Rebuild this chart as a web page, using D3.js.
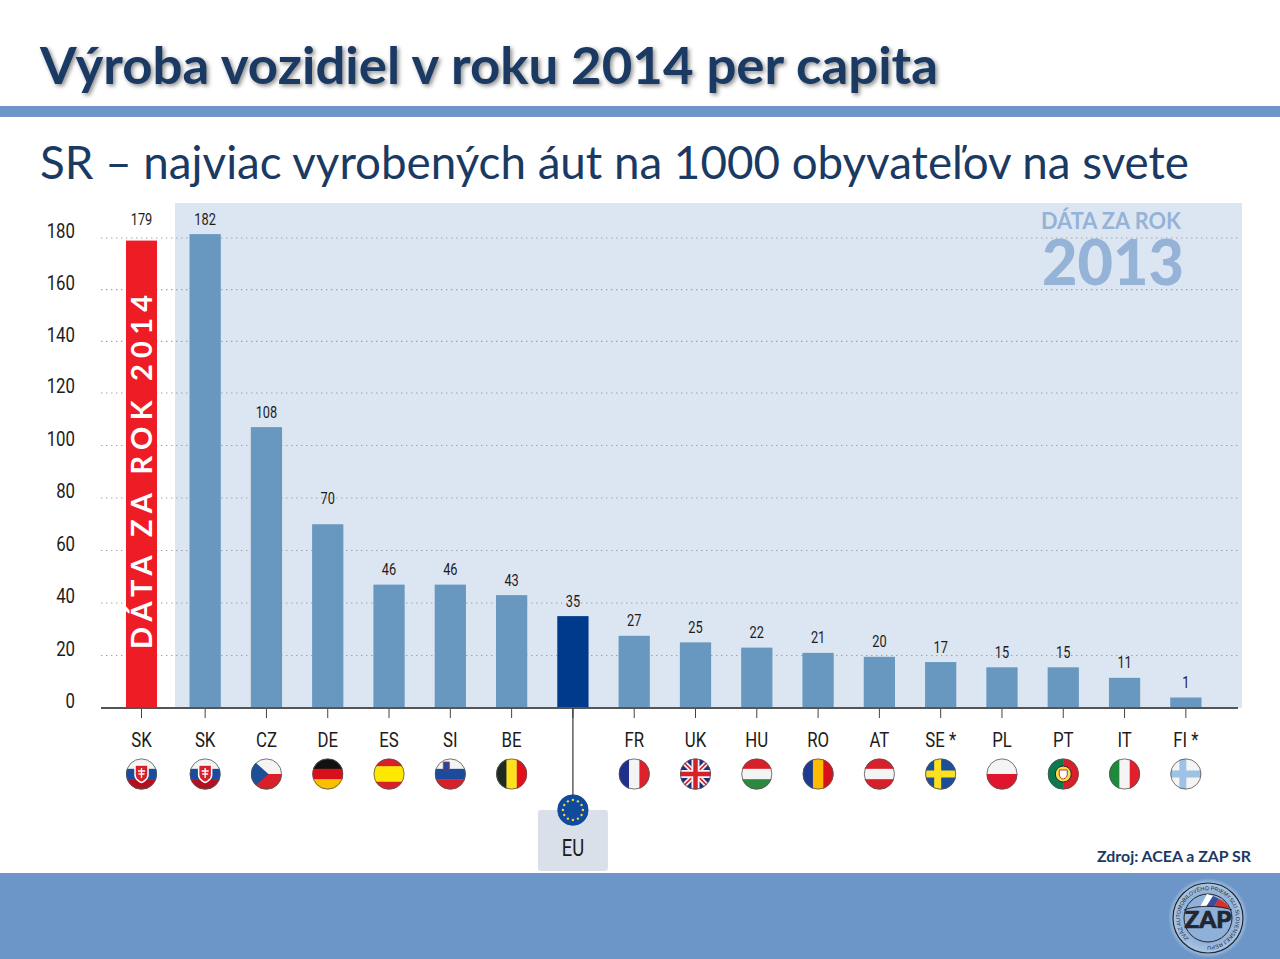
<!DOCTYPE html>
<html>
<head>
<meta charset="utf-8">
<script src="https://cdn.jsdelivr.net/npm/d3@7"></script>
<style>
  html, body { margin: 0; padding: 0; background: #fff; }
  svg { display: block; }
  .narrow { font-family: "Roboto", sans-serif; font-weight: 400; }
  .narrow text { font-family: "Roboto", sans-serif; }
  .lato { font-family: "Lato", "Open Sans", sans-serif; }
  .tick text { fill: #1c1c1c; }
</style>
</head>
<body>
<div id="d3"></div>
<script>
var categories2014 = ["SK"];
var values2014 = [179];

var categories = ["SK", "CZ", "DE", "ES", "SI", "BE", "EU", "FR", "UK", "HU", "RO", "AT", "SE *", "PL", "PT", "IT", "FI *"];
var values = [181.5, 107, 70, 47, 47, 43, 35, 27.5, 25, 23, 21, 19.5, 17.5, 15.5, 15.5, 11.5, 4];
var valueLabels = ["182", "108", "70", "46", "46", "43", "35", "27", "25", "22", "21", "20", "17", "15", "15", "11", "1"];
var yTicks = [0, 20, 40, 60, 80, 100, 120, 140, 160, 180];

var width = 1280;
var height = 959;
var navy = "#1a3a63";
var band = "#6c96c8";
var squeeze = 0.8;

// the picture's axis is slightly tighter above 120
var y = d3.scaleLinear().domain([0, 120, 180]).range([708, 393, 238]);

var x = d3.scaleBand()
  .domain(categories)
  .range([174.5, 1216.5])
  .paddingInner(0.49)
  .paddingOuter(0.245);

var x2014 = d3.scaleBand()
  .domain(categories2014)
  .range([110, 173])
  .padding(0.34);

var svg = d3.select("#d3").append("svg")
  .attr("width", width)
  .attr("height", height);

// header and footer
svg.append("rect").attr("x", 0).attr("y", 106).attr("width", width).attr("height", 11).attr("fill", band);
svg.append("rect").attr("x", 0).attr("y", 873).attr("width", width).attr("height", 86).attr("fill", band);

svg.append("text").attr("class", "lato")
  .attr("x", 40).attr("y", 84)
  .attr("font-size", 52).attr("font-weight", 700)
  .attr("fill", navy)
  .attr("textLength", 898).attr("lengthAdjust", "spacingAndGlyphs")
  .style("filter", "drop-shadow(2px 2px 2px rgba(0,0,0,0.45))")
  .text("Výroba vozidiel v roku 2014 per capita");

svg.append("text").attr("class", "lato")
  .attr("x", 40).attr("y", 179)
  .attr("font-size", 46)
  .attr("fill", navy)
  .attr("textLength", 1149).attr("lengthAdjust", "spacingAndGlyphs")
  .text("SR – najviac vyrobených áut na 1000 obyvateľov na svete");

// panel for the 2013 data
svg.append("rect").attr("x", 175).attr("y", 203).attr("width", 1067).attr("height", 505).attr("fill", "#dce6f2");

// grid
svg.append("g").selectAll("line")
  .data(yTicks.filter(d => d > 0))
  .join("line")
    .attr("x1", 101).attr("x2", 1238)
    .attr("y1", d => y(d)).attr("y2", d => y(d))
    .attr("stroke", "#a0a0a0")
    .attr("stroke-width", 1.2)
    .attr("stroke-dasharray", "1.4 3.6");

svg.append("text").attr("class", "lato")
  .attr("x", 1111).attr("y", 229)
  .attr("text-anchor", "middle")
  .attr("font-size", 23).attr("font-weight", 700)
  .attr("fill", "#95b3d7")
  .attr("textLength", 140).attr("lengthAdjust", "spacingAndGlyphs")
  .text("DÁTA ZA ROK");

svg.append("text").attr("class", "lato")
  .attr("x", 1113).attr("y", 285)
  .attr("text-anchor", "middle")
  .attr("font-size", 63).attr("font-weight", 900)
  .attr("fill", "#95b3d7")
  .attr("textLength", 142).attr("lengthAdjust", "spacingAndGlyphs")
  .text("2013");

// bars
svg.append("g").selectAll("rect")
  .data(categories2014)
  .join("rect")
    .attr("x", d => x2014(d))
    .attr("y", (d, i) => y(values2014[i]))
    .attr("width", x2014.bandwidth())
    .attr("height", (d, i) => y(0) - y(values2014[i]))
    .attr("fill", "#ee1c25");

svg.append("g").selectAll("rect")
  .data(categories)
  .join("rect")
    .attr("x", d => x(d))
    .attr("y", (d, i) => y(values[i]))
    .attr("width", x.bandwidth())
    .attr("height", (d, i) => y(0) - y(values[i]))
    .attr("fill", d => d === "EU" ? "#003a8c" : "#6898bf");

// value labels, DE sits higher in the picture
svg.append("g").attr("class", "narrow").selectAll("text")
  .data(categories)
  .join("text")
    .attr("transform", (d, i) => `translate(${x(d) + x.bandwidth() / 2},${y(values[i]) - (d === "DE" ? 20 : 9.5)}) scale(${squeeze},1)`)
    .attr("text-anchor", "middle")
    .attr("font-size", 16)
    .attr("fill", "#1c1c1c")
    .text((d, i) => valueLabels[i]);

var redCx = x2014("SK") + x2014.bandwidth() / 2;

svg.append("g").attr("class", "narrow").append("text")
  .attr("transform", `translate(${redCx},${y(values2014[0]) - 15.5}) scale(${squeeze},1)`)
  .attr("text-anchor", "middle")
  .attr("font-size", 16)
  .attr("fill", "#1c1c1c")
  .text(values2014[0]);

svg.append("text").attr("class", "lato")
  .attr("transform", `translate(${redCx + 10.5},649) rotate(-90)`)
  .attr("font-size", 29).attr("font-weight", 700)
  .attr("fill", "#fff")
  .attr("textLength", 354)
  .text("DÁTA ZA ROK 2014");

// y axis, the labels sit a little above their grid line
var gy = svg.append("g")
  .attr("class", "narrow")
  .attr("transform", "translate(75,0)")
  .call(d3.axisLeft(y).tickValues(yTicks).tickSize(0).tickPadding(0));
gy.select(".domain").remove();
gy.selectAll("text")
  .attr("font-size", 21).attr("y", -7).attr("x", 0)
  .attr("transform", `scale(${squeeze},1)`);

// x axes
function bottomAxis(scale) {
  var g = svg.append("g")
    .attr("class", "narrow")
    .attr("transform", "translate(0,708)")
    .call(d3.axisBottom(scale).tickSize(10).tickPadding(14).tickSizeOuter(0).tickFormat(d => d === "EU" ? "" : d));
  g.select(".domain").remove();
  g.selectAll("text")
    .attr("font-size", 21)
    .attr("transform", `scale(${squeeze},1)`);
  g.selectAll("line").attr("stroke", "#444").attr("stroke-width", 1);
}
bottomAxis(x);
bottomAxis(x2014);

svg.append("line")
  .attr("x1", 101).attr("x2", 1238)
  .attr("y1", y(0)).attr("y2", y(0))
  .attr("stroke", "#555").attr("stroke-width", 1.8);

// EU call-out
var euCx = x("EU") + x.bandwidth() / 2;
svg.append("rect")
  .attr("x", euCx - 35).attr("y", 810).attr("width", 70).attr("height", 61).attr("rx", 3)
  .attr("fill", "#d9e0ea");
svg.append("line")
  .attr("x1", euCx).attr("x2", euCx)
  .attr("y1", y(0)).attr("y2", 800)
  .attr("stroke", "#333").attr("stroke-width", 1.2);
svg.append("g").attr("class", "narrow").append("text")
  .attr("transform", `translate(${euCx},856) scale(${squeeze},1)`)
  .attr("text-anchor", "middle")
  .attr("font-size", 23).attr("fill", "#1c1c1c")
  .text("EU");

// flags
var flagStripes = {
  "SK": ["h", "#f4f4f4", "#1c4a9c", "#b01020"],
  "CZ": ["h", "#f4f4f4", "#d9202a"],
  "DE": ["h", "#111", "#d8101c", "#fbbf00"],
  "ES": ["h", "#d8202a", "#ffe800", "#ffe800", "#d8202a"],
  "SI": ["h", "#f4f4f4", "#1c4a9c", "#d8202a"],
  "BE": ["v", "#1d2b22", "#fde020", "#e0101c"],
  "FR": ["v", "#1f2f8c", "#f4f4f4", "#e0202a"],
  "HU": ["h", "#d8202a", "#f4f4f4", "#2c8a40"],
  "RO": ["v", "#1c3a90", "#fdbb00", "#d8101c"],
  "AT": ["h", "#d8202a", "#f4f4f4", "#d8202a"],
  "PL": ["h", "#f4f4f4", "#e0142c"],
  "IT": ["v", "#1f8a3c", "#f4f4f4", "#e0202a"],
  "PT": ["v", "#0c7a50", "#0c7a50", "#d8202a", "#d8202a"],
  "UK": ["h", "#1f2f7c"],
  "SE": ["h", "#1c4f98"],
  "FI": ["h", "#f4f4f4"],
  "EU": ["h", "#0f4a9c"]
};

var flagR = 15.5;
var defs = svg.append("defs");
defs.append("clipPath").attr("id", "flagClip")
  .append("circle").attr("r", flagR);

function drawCross(g, color, vx, wide) {
  g.append("rect").attr("x", -flagR).attr("y", -wide / 2).attr("width", flagR * 2).attr("height", wide).attr("fill", color);
  g.append("rect").attr("x", vx - wide / 2).attr("y", -flagR).attr("width", wide).attr("height", flagR * 2).attr("fill", color);
}

function drawFlag(code, cx, cy) {
  var outer = svg.append("g").attr("transform", `translate(${cx},${cy})`);
  var g = outer.append("g").attr("clip-path", "url(#flagClip)");
  var spec = flagStripes[code];
  var colors = spec.slice(1);
  var size = flagR * 2 / colors.length;
  g.selectAll("rect").data(colors).join("rect")
    .attr("x", (d, i) => spec[0] === "v" ? -flagR + i * size : -flagR)
    .attr("y", (d, i) => spec[0] === "h" ? -flagR + i * size : -flagR)
    .attr("width", spec[0] === "v" ? size + 0.5 : flagR * 2)
    .attr("height", spec[0] === "h" ? size + 0.5 : flagR * 2)
    .attr("fill", d => d);

  if (code === "SK") {
    g.append("path").attr("d", "M-6.5,-9H6.5V1C6.5,6 0,8.5 0,8.5C0,8.5 -6.5,6 -6.5,1Z").attr("fill", "#d8202a").attr("stroke", "#fff").attr("stroke-width", 1.5);
    g.append("path").attr("d", "M0,-6V4M-3.5,-3H3.5M-3,0H3").attr("stroke", "#fff").attr("stroke-width", 1.3);
  } else if (code === "CZ") {
    g.append("path").attr("d", "M-16,-16L2,0L-16,16Z").attr("fill", "#1c4f98");
  } else if (code === "SI") {
    g.append("path").attr("d", "M-7,-12H-1V-6C-1,-4 -4,-3 -4,-3C-4,-3 -7,-4 -7,-6Z").attr("fill", "#1c4a9c").attr("stroke", "#d8202a").attr("stroke-width", 0.8);
  } else if (code === "UK") {
    g.append("path").attr("d", "M-16,-16L16,16M16,-16L-16,16").attr("stroke", "#f4f4f4").attr("stroke-width", 5);
    g.append("path").attr("d", "M-16,-16L16,16M16,-16L-16,16").attr("stroke", "#d8202a").attr("stroke-width", 1.6);
    drawCross(g, "#f4f4f4", 0, 8);
    drawCross(g, "#d8202a", 0, 4.5);
  } else if (code === "SE") {
    drawCross(g, "#fde020", -3, 7);
  } else if (code === "FI") {
    drawCross(g, "#9cc2e6", -3, 7);
  } else if (code === "PT") {
    g.append("circle").attr("r", 8).attr("fill", "#f2e14c").attr("stroke", "#222").attr("stroke-width", 1);
    g.append("path").attr("d", "M-4,-4H4V1C4,4 0,5 0,5C0,5 -4,4 -4,1Z").attr("fill", "#fff").attr("stroke", "#c33").attr("stroke-width", 1);
  } else if (code === "EU") {
    g.selectAll("circle.star").data(d3.range(12)).join("circle")
      .attr("class", "star")
      .attr("cx", d => 10 * Math.cos(d * Math.PI / 6))
      .attr("cy", d => 10 * Math.sin(d * Math.PI / 6))
      .attr("r", 1.2)
      .attr("fill", "#f5d33a");
  }
  outer.append("circle").attr("r", flagR - 0.4)
    .attr("fill", "none")
    .attr("stroke", code === "EU" ? "#0f4a9c" : "#555")
    .attr("stroke-width", 0.8);
}

drawFlag("SK", redCx, 774);
categories.forEach(function(d) {
  var code = d.replace(" *", "");
  var cx = x(d) + x.bandwidth() / 2;
  drawFlag(code, cx, code === "EU" ? 810 : 774);
});

// source
svg.append("text").attr("class", "lato")
  .attr("x", 1097).attr("y", 862)
  .attr("font-size", 15).attr("font-weight", 700)
  .attr("fill", navy)
  .attr("textLength", 154).attr("lengthAdjust", "spacingAndGlyphs")
  .text("Zdroj: ACEA a ZAP SR");

// ZAP logo
var logo = svg.append("g").attr("transform", "translate(1208,918)");
var glow = defs.append("radialGradient").attr("id", "logoGlow");
glow.append("stop").attr("offset", "60%").attr("stop-color", "#8fb0d8");
glow.append("stop").attr("offset", "85%").attr("stop-color", "#a9c4e4");
glow.append("stop").attr("offset", "100%").attr("stop-color", band);
logo.append("circle").attr("r", 40).attr("fill", "url(#logoGlow)");
logo.append("circle").attr("r", 35).attr("fill", "none").attr("stroke", "#23262e").attr("stroke-width", 1.2);
logo.append("circle").attr("r", 24).attr("fill", "none").attr("stroke", "#23262e").attr("stroke-width", 1);
defs.append("path").attr("id", "logoRing").attr("d", "M0,28A28,28 0 1 1 0.01,28");
logo.append("text")
  .attr("font-family", "Liberation Sans").attr("font-size", 5.5).attr("fill", "#23262e")
  .append("textPath").attr("href", "#logoRing").attr("startOffset", "12%")
  .text("ZVÄZ AUTOMOBILOVÉHO PRIEMYSLU SLOVENSKEJ REPUBLIKY");
logo.append("path").attr("d", "M-8,-11L-1,-24L5,-22L-2,-11Z").attr("fill", "#fff");
logo.append("path").attr("d", "M-2,-11L5,-22L11,-19L6,-11Z").attr("fill", "#3a4f9c");
logo.append("path").attr("d", "M6,-11L11,-19C16,-17 19,-14 22,-9Z").attr("fill", "#d8302a");
logo.append("path").attr("d", "M-24,-8C-12,-13 12,-13 24,-8").attr("fill", "none").attr("stroke", "#23262e").attr("stroke-width", 1);
logo.append("text").attr("class", "lato")
  .attr("x", 0).attr("y", 10)
  .attr("text-anchor", "middle")
  .attr("font-size", 23).attr("font-weight", 900)
  .attr("fill", "#23262e").attr("stroke", "#23262e").attr("stroke-width", 0.7)
  .attr("textLength", 47).attr("lengthAdjust", "spacingAndGlyphs")
  .text("ZAP");
</script>
</body>
</html>
